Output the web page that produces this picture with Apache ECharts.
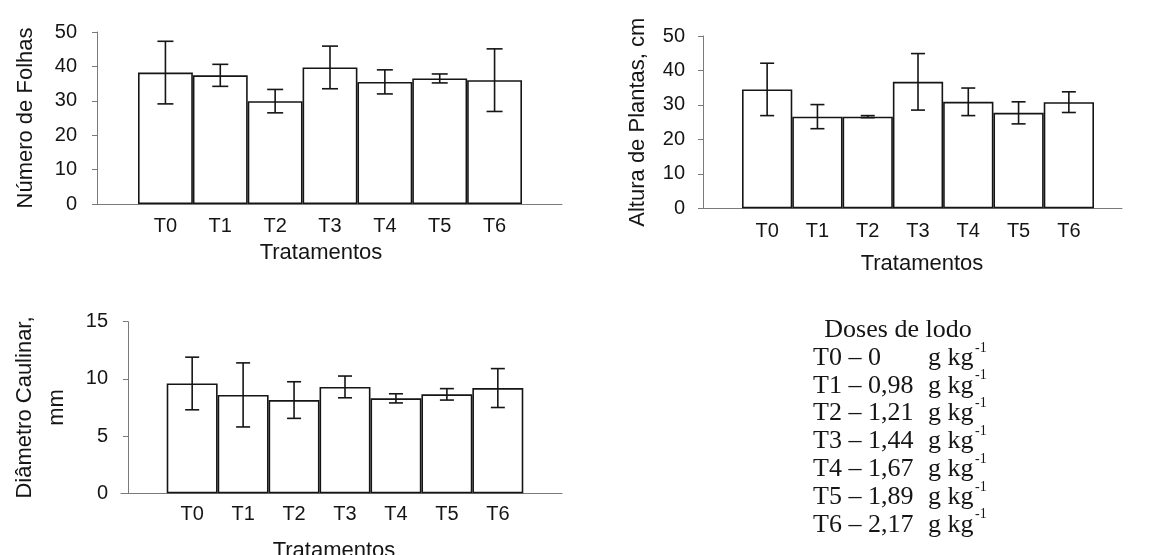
<!DOCTYPE html>
<html>
<head>
<meta charset="utf-8">
<script src="https://cdn.jsdelivr.net/npm/echarts@6/dist/echarts.min.js"></script>
<style>
html,body{margin:0;padding:0;background:#fff;}
#chart{width:1164px;height:555px;}
</style>
</head>
<body>
<div id="chart"></div>
<script>
// ---- data ----
const categories = ['T0', 'T1', 'T2', 'T3', 'T4', 'T5', 'T6'];
const folhasMean = [38.2, 37.4, 29.9, 39.7, 35.5, 36.5, 36.0];
const folhasErr  = [9.1, 3.2, 3.4, 6.2, 3.5, 1.3, 9.1];
const alturaMean = [34.5, 26.6, 26.6, 36.7, 30.9, 27.7, 30.8];
const alturaErr  = [7.6, 3.5, 0.3, 8.2, 4.0, 3.2, 3.0];
const diamMean   = [9.6, 8.6, 8.15, 9.3, 8.3, 8.65, 9.2];
const diamErr    = [2.3, 2.8, 1.6, 0.95, 0.4, 0.5, 1.7];
const doseValues = ['0', '0,98', '1,21', '1,44', '1,67', '1,89', '2,17'];
const doseUnit = 'g kg';
const doseExp = '-1';
const legendTitle = 'Doses de lodo';
const xName = 'Tratamentos';
const yNames = ['Número de Folhas', 'Altura de Plantas, cm', 'Diâmetro Caulinar,\nmm'];

// ---- styles ----
const SANS = 'Liberation Sans, Arial, sans-serif';
const SERIF = 'Liberation Serif, Times New Roman, serif';
const INK = '#151515';
const AXIS = '#7a7a7a';

function errData(mean, err) {
  return mean.map((m, i) => [i, m - err[i], m + err[i]]);
}
function makeErrRender(capHalf) {
  return function (params, api) {
    const x = api.value(0), lo = api.value(1), hi = api.value(2);
    const a = api.coord([x, hi]), b = api.coord([x, lo]);
    const st = { stroke: INK, lineWidth: 1.6 };
    return {
      type: 'group',
      children: [
        { type: 'line', shape: { x1: a[0], y1: a[1], x2: b[0], y2: b[1] }, style: st },
        { type: 'line', shape: { x1: a[0] - capHalf, y1: a[1], x2: a[0] + capHalf, y2: a[1] }, style: st },
        { type: 'line', shape: { x1: b[0] - capHalf, y1: b[1], x2: b[0] + capHalf, y2: b[1] }, style: st }
      ]
    };
  };
}

const panels = [
  { bar: { left: 138, top: 32, width: 384, height: 172 }, ext: { left: 97, width: 465 }, yOff: 41,
    max: 50, interval: 10, mean: folhasMean, err: folhasErr, name: yNames[0], nameGap: 59, cap: 8,
    yMargin: 20, xMargin: 12, xNameGap: 38, xNamePad: [0, 18, 0, 0], lineH: 24 },
  { bar: { left: 742, top: 36, width: 352, height: 172.3 }, ext: { left: 703, width: 419 }, yOff: 39,
    max: 50, interval: 10, mean: alturaMean, err: alturaErr, name: yNames[1], nameGap: 53, cap: 7,
    yMargin: 18, xMargin: 13, xNameGap: 45, xNamePad: [0, 0, 0, 8], lineH: 24 },
  { bar: { left: 166.7, top: 321.7, width: 356.6, height: 171.6 }, ext: { left: 121, width: 441 }, yOff: 38.7,
    max: 15, interval: 5, mean: diamMean, err: diamErr, name: yNames[2], nameGap: 55, cap: 7,
    yMargin: 20, xMargin: 11, xNameGap: 47, xNamePad: [0, 22, 0, 0], lineH: 32 }
];

const grid = [], xAxis = [], yAxis = [], series = [];
panels.forEach((p, k) => {
  const gi = grid.length;
  grid.push({ left: p.bar.left, top: p.bar.top, width: p.bar.width, height: p.bar.height, containLabel: false, outerBoundsMode: 'none' });
  grid.push({ left: p.ext.left, top: p.bar.top, width: p.ext.width, height: p.bar.height, containLabel: false, outerBoundsMode: 'none' });
  xAxis.push({
    type: 'category', gridIndex: gi, data: categories, boundaryGap: true,
    axisLine: { show: false }, axisTick: { show: false },
    axisLabel: { interval: 0, margin: p.xMargin, color: INK, fontFamily: SANS, fontSize: 20 },
    name: xName, nameLocation: 'middle', nameGap: p.xNameGap,
    nameTextStyle: { color: INK, fontFamily: SANS, fontSize: 22, padding: p.xNamePad }
  });
  xAxis.push({
    type: 'value', gridIndex: gi + 1, min: 0, max: 1,
    axisLine: { show: true, lineStyle: { color: AXIS, width: 1 } },
    axisTick: { show: false }, axisLabel: { show: false }, splitLine: { show: false }
  });
  yAxis.push({
    type: 'value', gridIndex: gi, min: 0, max: p.max, interval: p.interval, offset: p.yOff,
    axisLine: { show: true, lineStyle: { color: AXIS, width: 1 } },
    axisTick: { show: true, length: 5, lineStyle: { color: AXIS } },
    splitLine: { show: false },
    axisLabel: { margin: p.yMargin, color: INK, fontFamily: SANS, fontSize: 20 },
    name: p.name, nameLocation: 'middle', nameGap: p.nameGap,
    nameTextStyle: { color: INK, fontFamily: SANS, fontSize: 22, lineHeight: p.lineH, align: 'center' }
  });
  yAxis.push({ type: 'value', gridIndex: gi + 1, min: 0, max: 1, show: false });
  series.push({
    type: 'bar', xAxisIndex: gi, yAxisIndex: gi, data: p.mean,
    barWidth: '100%', barCategoryGap: '0%',
    itemStyle: { color: '#ffffff', borderColor: INK, borderWidth: 1.6 },
    silent: true, z: 2
  });
  series.push({
    type: 'custom', xAxisIndex: gi, yAxisIndex: gi, data: errData(p.mean, p.err),
    renderItem: makeErrRender(p.cap), silent: true, z: 5
  });
});

// legend block (dose table)
const LEGFONT = '26px ' + SERIF;
const legX = 813, legUnitX = 928, legTitleX = 898, legTitleY = 330, legRow0 = 358, legStep = 27.8;
const graphic = [{
  type: 'text', x: legTitleX, y: legTitleY,
  style: { text: legendTitle, font: LEGFONT, fill: INK, align: 'center', verticalAlign: 'middle' }
}];
doseValues.forEach((d, i) => {
  const y = legRow0 + i * legStep;
  graphic.push({ type: 'text', x: legX, y: y, style: { text: categories[i] + ' – ' + d, font: LEGFONT, fill: INK, verticalAlign: 'middle' } });
  graphic.push({ type: 'text', x: legUnitX, y: y, style: { text: doseUnit, font: LEGFONT, fill: INK, verticalAlign: 'middle' } });
  graphic.push({ type: 'text', x: legUnitX + 47, y: y - 10, style: { text: doseExp, font: '14px ' + SERIF, fill: INK, verticalAlign: 'middle' } });
});

const chart = echarts.init(document.getElementById('chart'), null, { renderer: 'canvas' });
chart.setOption({
  animation: false,
  backgroundColor: '#ffffff',
  grid, xAxis, yAxis, series, graphic
});
</script>
</body>
</html>
